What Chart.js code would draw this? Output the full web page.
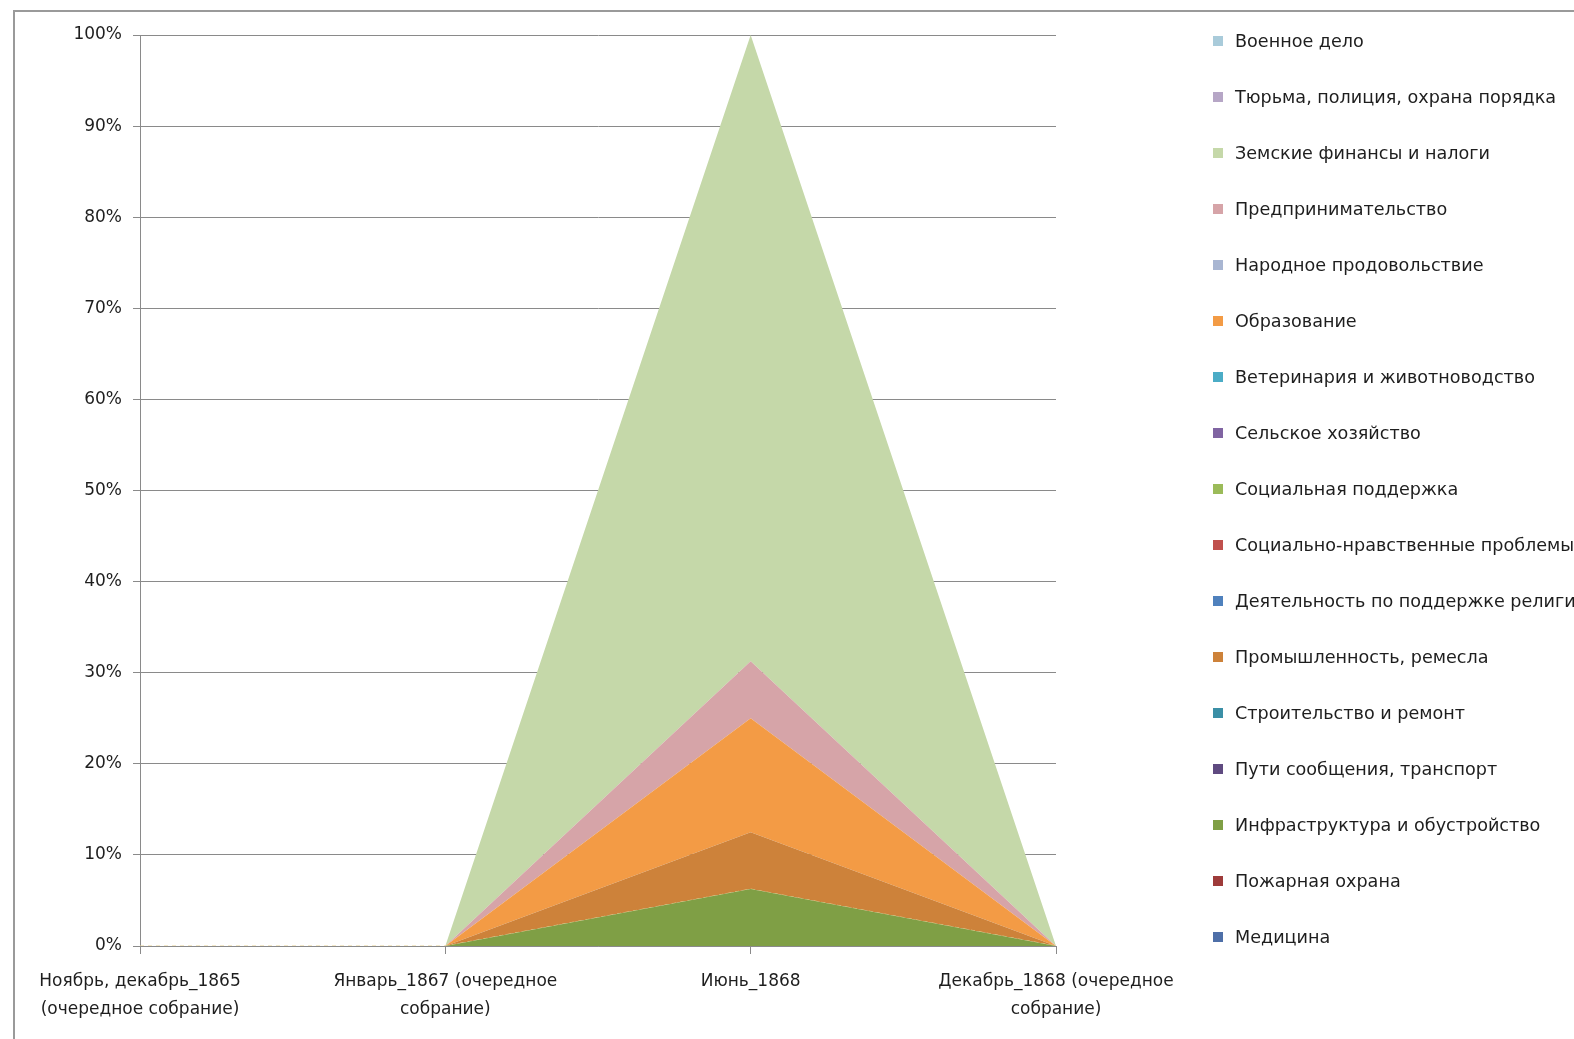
<!DOCTYPE html>
<html>
<head>
<meta charset="utf-8">
<script src="https://cdn.jsdelivr.net/npm/chart.js@4.4.0/dist/chart.umd.min.js"></script>
<style>
    html, body { margin: 0; padding: 0; background: #fff; overflow: hidden; }
    #wrap { position: relative; width: 1574px; height: 1039px; overflow: hidden; }
    #frame { position: absolute; left: 13px; top: 10px; width: 1700px; height: 1200px; border: 2px solid #9a9a9a; box-sizing: border-box; }
    #areaChart { position: absolute; left: 0; top: 0; }
    #legend { position: absolute; left: 1213px; top: 0; margin: 0; padding: 0; list-style: none; white-space: nowrap;
              font-family: 'DejaVu Sans', sans-serif; font-size: 17.6px; color: #1e1e1e; }
    #legend li { position: absolute; left: 0; height: 24px; line-height: 24px; }
    #legend li span.box { display: inline-block; width: 10px; height: 10px; margin-right: 12px; vertical-align: 1px; }
</style>
</head>
<body>
<div id="wrap">
    <div id="frame"></div>
    <canvas id="areaChart" width="1574" height="1039"></canvas>
    <ul id="legend"></ul>
</div>
<script>
// categories (x axis)
const periods = [
    ['Ноябрь, декабрь_1865', '(очередное собрание)'],
    ['Январь_1867 (очередное', 'собрание)'],
    'Июнь_1868',
    ['Декабрь_1868 (очередное', 'собрание)']
];

// series, bottom of the stack first (share of questions, %)
const topicNames = [
    'Медицина',
    'Пожарная охрана',
    'Инфраструктура и обустройство',
    'Пути сообщения, транспорт',
    'Строительство и ремонт',
    'Промышленность, ремесла',
    'Деятельность по поддержке религии',
    'Социально-нравственные проблемы',
    'Социальная поддержка',
    'Сельское хозяйство',
    'Ветеринария и животноводство',
    'Образование',
    'Народное продовольствие',
    'Предпринимательство',
    'Земские финансы и налоги',
    'Тюрьма, полиция, охрана порядка',
    'Военное дело'
];

const medicine       = [0, 0, 0, 0];
const fireGuard      = [0, 0, 0, 0];
const infrastructure = [0, 0, 6.25, 0];
const roads          = [0, 0, 0, 0];
const building       = [0, 0, 0, 0];
const industry       = [0, 0, 6.25, 0];
const religion       = [0, 0, 0, 0];
const morals         = [0, 0, 0, 0];
const socialSupport  = [0, 0, 0, 0];
const agriculture    = [0, 0, 0, 0];
const veterinary     = [0, 0, 0, 0];
const education      = [0, 0, 12.5, 0];
const foodSupply     = [0, 0, 0, 0];
const enterprise     = [0, 0, 6.25, 0];
const finances       = [0, 0, 68.75, 0];
const prison         = [0, 0, 0, 0];
const military       = [0, 0, 0, 0];

const topicValues = [medicine, fireGuard, infrastructure, roads, building, industry, religion, morals,
    socialSupport, agriculture, veterinary, education, foodSupply, enterprise, finances, prison, military];

const yTicks = [0, 10, 20, 30, 40, 50, 60, 70, 80, 90, 100];

const topicColors = [
    '#4e6fa8', '#9e3b3a', '#7f9f45', '#5f4a80', '#3b8fa6', '#cd823a',
    '#4f81bd', '#c0504d', '#9bbb59', '#8064a2', '#4bacc6', '#f39b45',
    '#a9b6d2', '#d6a4a8', '#c5d8a9', '#b6a6c6', '#a9cbda'
];

const FONT = "'DejaVu Sans', sans-serif";

// legend on the right, top entry = top of the stack (as in Excel)
const legendList = document.getElementById('legend');
for (let i = topicNames.length - 1, row = 0; i >= 0; i--, row++) {
    const li = document.createElement('li');
    li.style.top = (29 + row * 56) + 'px';
    li.innerHTML = `<span class="box" style="background:${topicColors[i]}"></span>${topicNames[i]}`;
    legendList.appendChild(li);
}

// the thin dashed line on top of the green band comes from the empty "roads" series
const dashedSeries = 'Пути сообщения, транспорт';

const datasets = topicNames.map((name, i) => ({
    label: name,
    data: topicValues[i],
    backgroundColor: topicColors[i],
    borderColor: name === dashedSeries ? '#e8d394' : 'rgba(0,0,0,0)',
    borderDash: name === dashedSeries ? [4, 4] : [],
    borderWidth: name === dashedSeries ? 1 : 0,
    pointRadius: 0,
    tension: 0,
    fill: i === 0 ? 'origin' : '-1'
}));

const ctx = document.getElementById('areaChart').getContext('2d');
new Chart(ctx, {
    type: 'line',
    data: { labels: periods, datasets: datasets },
    options: {
        responsive: false,
        devicePixelRatio: 1,
        animation: false,
        layout: { padding: { top: 35, right: 518, left: 0, bottom: 0 } },
        plugins: { legend: { display: false }, tooltip: { enabled: false } },
        scales: {
            x: {
                offset: false,
                grid: { drawOnChartArea: false, drawTicks: true, tickLength: 8, color: '#8a8a8a' },
                border: { display: true, color: '#8a8a8a', width: 1 },
                ticks: {
                    autoSkip: false, maxRotation: 0, minRotation: 0, padding: 13,
                    color: '#1e1e1e', font: { family: FONT, size: 17, lineHeight: 1.68 }
                },
                afterFit: (scale) => { scale.height = 93; }
            },
            y: {
                stacked: true,
                min: 0, max: 100,
                afterBuildTicks: (scale) => { scale.ticks = yTicks.map(v => ({ value: v })); },
                grid: { color: '#8a8a8a', tickLength: 7, lineWidth: 1 },
                border: { display: true, color: '#8a8a8a', width: 1 },
                ticks: {
                    padding: 11, color: '#1e1e1e', font: { family: FONT, size: 17 },
                    callback: (v) => v + '%'
                },
                afterFit: (scale) => { scale.width = 140; }
            }
        }
    }
});
</script>
</body>
</html>
